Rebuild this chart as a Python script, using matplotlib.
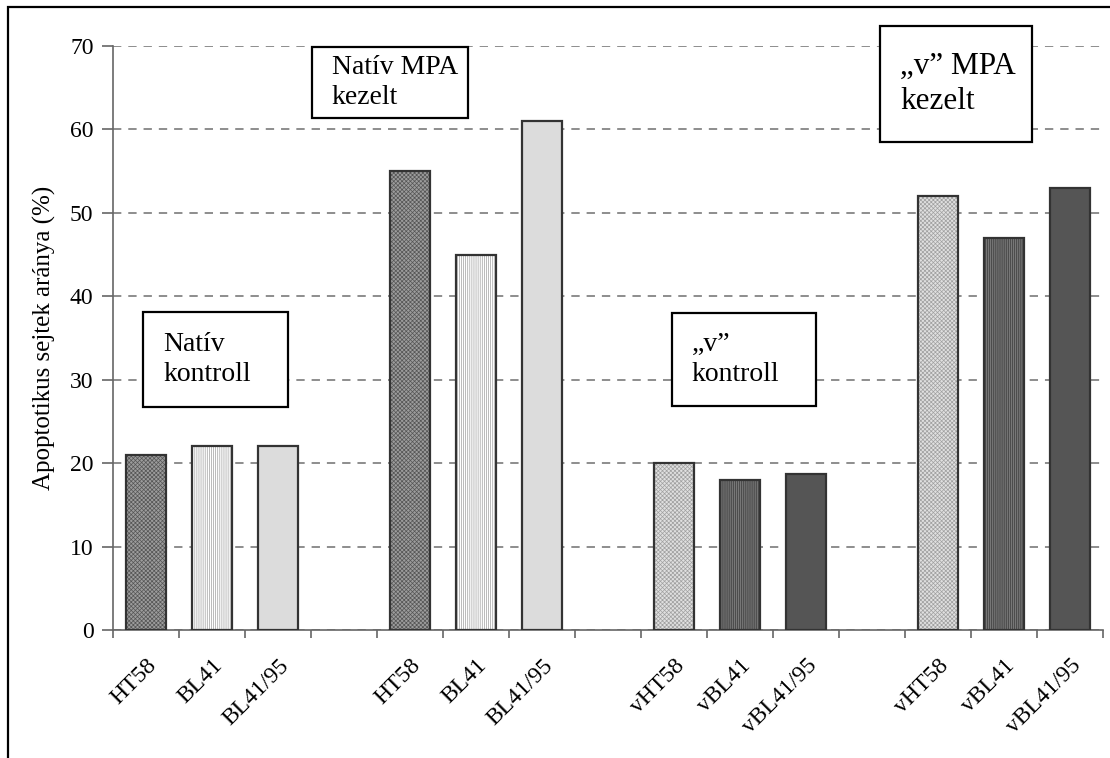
import matplotlib
matplotlib.use("Agg")
import matplotlib.pyplot as plt
from matplotlib.patches import Rectangle

plt.rcParams['font.family'] = ['Liberation Serif', 'DejaVu Serif']
plt.rcParams['hatch.linewidth'] = 0.5
plt.rcParams['lines.scale_dashes'] = False

# sample names and measured apoptotic fractions (%)
labels = ['HT58', 'BL41', 'BL41/95',
          'HT58', 'BL41', 'BL41/95',
          'vHT58', 'vBL41', 'vBL41/95',
          'vHT58', 'vBL41', 'vBL41/95']
values = [21, 22, 22,
          55, 45, 61,
          20, 18, 18.7,
          52, 47, 53]
groups = ['Natív\nkontroll', 'Natív MPA\nkezelt', '\u201ev\u201d\nkontroll', '\u201ev\u201d MPA\nkezelt']
yticks = [0, 10, 20, 30, 40, 50, 60, 70]

# one empty slot between the groups of three
pos = [g * 4 + k for g in range(4) for k in range(3)]

# fill / hatch per bar (native series light, "v" series dark)
faces = ['#9c9c9c', '#ffffff', '#dcdcdc'] * 2 + ['#e0e0e0', '#4c4c4c', '#555555'] * 2
hatches = ['xxxxxxxx', '||||||||', None] * 2 + ['xxxxxxxx', '||||||||', None] * 2
hcolors = ['#555555', '#a0a0a0', '#dcdcdc'] * 2 + ['#a0a0a0', '#8a8a8a', '#555555'] * 2

W, H = 1110, 758
fig = plt.figure(figsize=(W / 100, H / 100), dpi=100)
ax = fig.add_axes([113 / W, 1 - 630 / H, 990 / W, 584 / H])

for x, v, fc, h, hc in zip(pos, values, faces, hatches, hcolors):
    ax.bar(x, v, width=0.6, color=fc, edgecolor=hc, hatch=h, linewidth=0, zorder=2)
    ax.bar(x, v, width=0.6, color='none', edgecolor='#333333', linewidth=1.6, zorder=3)

ax.set_xlim(-0.5, 14.5)
ax.set_ylim(0, 70)
ax.set_yticks(yticks)
ax.set_xticks(pos)
ax.set_xticklabels(labels, rotation=45, ha='right', va='top', rotation_mode='anchor', fontsize=17)
ax.set_xticks([i - 0.5 for i in range(16)], minor=True)
ax.tick_params(axis='x', which='major', length=0, pad=18)
ax.tick_params(axis='x', which='minor', length=6, color='#666666', width=1.2)
ax.tick_params(axis='y', length=8, color='#666666', width=1.2, labelsize=17, pad=6)

ax.set_ylabel('Apoptotikus sejtek aránya (%)', fontsize=18, labelpad=10)

for s in ['top', 'right']:
    ax.spines[s].set_visible(False)
for s in ['left', 'bottom']:
    ax.spines[s].set_color('#666666')
    ax.spines[s].set_linewidth(1.2)

ax.yaxis.grid(True, color='#7a7a7a', linestyle=(0, (6, 5)), linewidth=1.2, zorder=0)
ax.set_axisbelow(True)


def label_box(x0, y0, x1, y1, text, size):
    # rectangle and text given in pixels from the top-left corner
    fig.patches.append(Rectangle((x0 / W, 1 - y1 / H), (x1 - x0) / W, (y1 - y0) / H,
                                 transform=fig.transFigure, facecolor='white',
                                 edgecolor='black', linewidth=1.6, zorder=5))
    fig.text((x0 + 20) / W, 1 - (y0 + y1) / 2 / H, text, fontsize=size,
             ha='left', va='center', linespacing=1.3, zorder=6)


label_box(143, 312, 288, 407, groups[0], 20)
label_box(312, 47, 468, 118, groups[1], 20)
label_box(672, 313, 816, 406, groups[2], 20)
label_box(880, 26, 1032, 142, groups[3], 22.5)

# outer frame
fig.patches.append(Rectangle((8 / W, -0.1), 1.2, 1.1 - 7 / H, transform=fig.transFigure,
                             fill=False, edgecolor='black', linewidth=1.6))

fig.savefig('out.png', dpi=100)
